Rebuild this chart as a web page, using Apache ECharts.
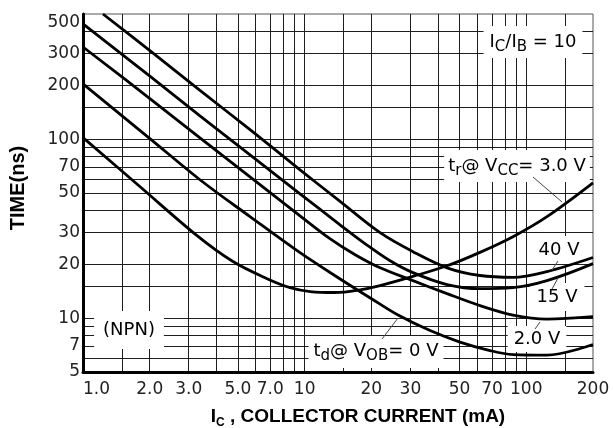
<!DOCTYPE html>
<html>
<head>
<meta charset="utf-8">
<script src="https://cdn.jsdelivr.net/npm/echarts@6/dist/echarts.min.js"></script>
<style>
  html, body { margin: 0; padding: 0; background: #fff; }
  #chart { width: 613px; height: 428px; }
</style>
</head>
<body>
<div id="chart"></div>
<script>
// axis ticks (collector current mA / time ns)
var xTickValues = [1, 2, 3, 5, 7, 10, 20, 30, 50, 70, 100, 200];
var xTickLabels = ["1.0", "2.0", "3.0", "5.0", "7.0", "10", "20", "30", "50", "70", "100", "200"];
var xGridValues = [1.5, 2, 3, 4, 5, 6, 7, 8, 9, 10, 15, 20, 30, 40, 50, 60, 70, 80, 90, 100, 150];
var yTickValues = [5, 7, 10, 20, 30, 50, 70, 100, 200, 300, 500];
var yTickLabels = ["5", "7", "10", "20", "30", "50", "70", "100", "200", "300", "500"];
var yGridValues = [6, 7, 8, 9, 10, 15, 20, 30, 40, 50, 60, 70, 80, 90, 100, 150, 200, 300, 400];

// tr @ VCC = 40 V
var ic40 = [1.23, 2.01, 3.37, 5.67, 9.53, 14.4, 21.9, 30.8, 43.9, 61.8, 87.1, 124, 200];
var t40 = [500, 311, 187, 113, 67.4, 45.0, 30.0, 23.5, 19.1, 17.3, 16.9, 18.2, 21.8];
// tr @ VCC = 15 V
var ic15 = [1.0, 2.01, 3.37, 5.67, 9.53, 14.4, 18.7, 24.3, 30.8, 43.9, 61.8, 87.1, 124, 200];
var t15 = [440, 224, 135, 81.7, 49.5, 33.3, 26.1, 20.9, 17.95, 15.4, 14.6, 14.8, 16.2, 20.15];
// 2.0 V
var ic2 = [1.0, 2.01, 3.37, 5.67, 9.53, 13.0, 16.9, 21.9, 30.8, 43.9, 61.8, 87.1, 124, 200];
var t2 = [327, 168, 101.7, 61.6, 37.3, 27.8, 22.6, 19.1, 16.2, 13.7, 11.75, 10.4, 9.88, 10.2];
// td @ VOB = 0 V
var icTd = [1.0, 2.01, 3.37, 5.67, 9.53, 14.4, 19.7, 26.4, 36.8, 50.2, 68.6, 87.1, 124, 200];
var tTd = [203.5, 100.4, 59.3, 36.9, 23.2, 16.6, 13.0, 10.4, 8.52, 7.35, 6.59, 6.26, 6.22, 7.12];
// tr @ VCC = 3.0 V
var ic3 = [1.0, 1.81, 3.27, 4.75, 6.77, 8.59, 10.6, 13.7, 17.8, 21.9, 30.8, 43.9, 61.8, 87.1, 124, 200];
var t3 = [102, 54.2, 28.9, 20.7, 16.6, 14.8, 14.07, 13.9, 14.4, 15.2, 17.1, 19.6, 23.3, 28.5, 36.9, 57.0];

function zip(xs, ys) {
  return xs.map(function (x, i) { return [x, ys[i]]; });
}
function lookup(values, labels) {
  return function (v) {
    for (var i = 0; i < values.length; i++) {
      if (Math.abs(values[i] - v) < values[i] * 1e-6) return labels[i];
    }
    return "";
  };
}

var tickFont = "DejaVu Sans";
var richText = {
  m: { fontSize: 18, lineHeight: 26, fontFamily: tickFont, color: "#222" },
  s: { fontSize: 15, lineHeight: 15, fontFamily: tickFont, color: "#222", verticalAlign: "bottom" }
};

function note(x, y, text, pad) {
  return {
    type: "text", x: x, y: y, z: 1,
    style: {
      text: text, rich: richText,
      align: "center", verticalAlign: "middle",
      backgroundColor: "#fff", padding: pad
    }
  };
}
function leader(x1, y1, x2, y2) {
  return {
    type: "line", z: 5,
    shape: { x1: x1, y1: y1, x2: x2, y2: y2 },
    style: { stroke: "#444", lineWidth: 1 }
  };
}

var chart = echarts.init(document.getElementById("chart"));

function curve(name, data) {
  return {
    name: name, type: "line", data: data,
    showSymbol: false, smooth: 0.35, z: 3,
    lineStyle: { color: "#000", width: 2.8 }
  };
}

chart.setOption({
  animation: false,
  grid: {
    left: 83, right: 20, top: 14, bottom: 56,
    show: true, borderColor: "#555", borderWidth: 1
  },
  xAxis: {
    type: "log", logBase: 10, min: 1, max: 200,
    axisLine: { show: true, onZero: false, lineStyle: { color: "#000", width: 3 } },
    axisTick: { show: false, customValues: xGridValues },
    splitLine: { show: true, lineStyle: { color: "#1e1e1e", width: 1 } },
    axisLabel: {
      customValues: xTickValues, formatter: lookup(xTickValues, xTickLabels),
      margin: 9, fontSize: 17, fontFamily: tickFont, color: "#222",
      alignMinLabel: "left"
    }
  },
  yAxis: {
    type: "log", logBase: 10, min: 5, max: 500,
    axisLine: { show: true, onZero: false, lineStyle: { color: "#000", width: 3 } },
    axisTick: { show: false, customValues: yGridValues },
    splitLine: { show: true, lineStyle: { color: "#1e1e1e", width: 1 } },
    axisLabel: {
      customValues: yTickValues, formatter: lookup(yTickValues, yTickLabels),
      margin: 3, fontSize: 17, fontFamily: tickFont, color: "#222",
      verticalAlignMaxLabel: "top"
    }
  },
  graphic: [
    note(533, 42, "{m|I}{s|C}{m|/I}{s|B}{m| = 10}", [3, 6]),
    note(517, 166, "{m|t}{s|r}{m|@ V}{s|CC}{m|= 3.0 V}", [3, 4]),
    note(559, 250, "{m|40 V}", [1, 7]),
    note(557, 297, "{m|15 V}", [1, 7]),
    note(537, 339, "{m|2.0 V}", [0, 6]),
    note(376, 352, "{m|t}{s|d}{m|@ V}{s|OB}{m|= 0 V}", [2, 5, 4, 5]),
    note(129, 330, "{m|(NPN)}", [6, 9]),
    leader(533, 177, 562, 202),
    leader(558, 261, 552, 270),
    leader(552, 289, 558, 278),
    leader(540, 322, 535, 329),
    leader(382, 339, 398, 318),
    {
      type: "text", x: 18, y: 188, rotation: Math.PI / 2,
      style: {
        text: "TIME(ns)", align: "center", verticalAlign: "middle",
        fontSize: 20, fontWeight: "bold", fontFamily: "Liberation Sans", fill: "#000"
      }
    },
    {
      type: "text", x: 358, y: 417,
      style: {
        text: "{b|I}{bs|C}{b| , COLLECTOR CURRENT (mA)}",
        align: "center", verticalAlign: "middle",
        rich: {
          b: { fontSize: 19, lineHeight: 24, fontWeight: "bold", fontFamily: "Liberation Sans", color: "#000" },
          bs: { fontSize: 12, lineHeight: 12, fontWeight: "bold", fontFamily: "Liberation Sans", color: "#000", verticalAlign: "bottom" }
        }
      }
    }
  ],
  series: [
    curve("tr @ VCC = 40 V", zip(ic40, t40)),
    curve("tr @ VCC = 15 V", zip(ic15, t15)),
    curve("2.0 V", zip(ic2, t2)),
    curve("td @ VOB = 0 V", zip(icTd, tTd)),
    curve("tr @ VCC = 3.0 V", zip(ic3, t3))
  ]
});
</script>
</body>
</html>
